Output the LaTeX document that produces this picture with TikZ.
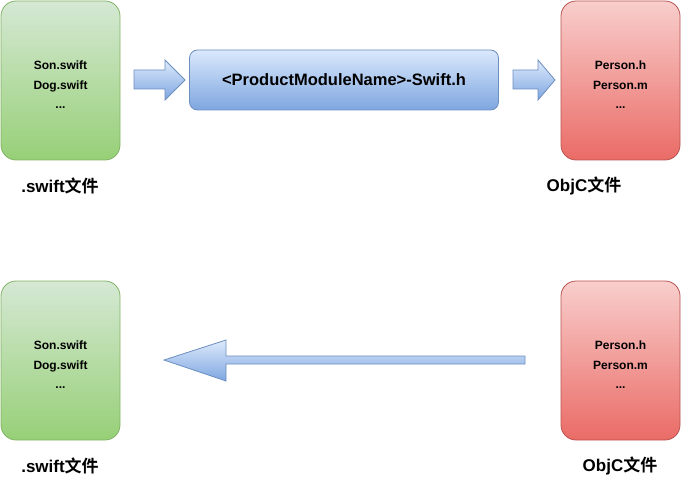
\documentclass[tikz,border=0pt]{standalone}
\usepackage{fontspec}
\setmainfont{Liberation Sans}
\newfontfamily\cjk{Noto Sans CJK SC}[BoldFont={Noto Sans CJK SC Bold}]
\definecolor{gTop}{HTML}{D5E8D4}
\definecolor{gBot}{HTML}{97D077}
\definecolor{gLine}{HTML}{82B366}
\definecolor{rTop}{HTML}{F8CECC}
\definecolor{rBot}{HTML}{EA6B66}
\definecolor{rLine}{HTML}{B85450}
\definecolor{bTop}{HTML}{DAE8FC}
\definecolor{bBot}{HTML}{7EA6E0}
\definecolor{bLine}{HTML}{6C8EBF}
\begin{document}
\begin{tikzpicture}[x=1pt,y=-1pt,
  filebox/.style={rounded corners=15pt, minimum width=119pt, minimum height=159pt, inner sep=0pt, line width=0.8pt},
  greenbox/.style={filebox, draw=gLine, top color=gTop, bottom color=gBot},
  redbox/.style={filebox, draw=rLine, top color=rTop, bottom color=rBot},
  filetext/.style={align=center, inner sep=0pt, font=\fontsize{12}{19.5}\selectfont\bfseries},
  hdrbox/.style={rounded corners=8pt, minimum width=309pt, minimum height=60pt, inner sep=0pt, line width=0.8pt, draw=bLine, top color=bTop, bottom color=bBot, font=\fontsize{16.5}{18}\selectfont\bfseries},
  blockarrow/.style={draw=bLine, line width=0.8pt, top color=bTop!90!white, bottom color=bBot},
  caption/.style={font=\fontsize{17}{19}\selectfont\bfseries, inner sep=0pt}
]
\useasboundingbox (0,0) rectangle (682,481);
% top row
\node[greenbox] (sw1) at (60.5,80.5) {};
\node[filetext] (sw1t) at (60.5,85) {Son.swift\\Dog.swift\\...};
\node[hdrbox] (hdr) at (344,80) {<ProductModuleName>-Swift.h};
\node[redbox] (oc1) at (620.5,80.5) {};
\node[filetext] (oc1t) at (620.5,85) {Person.h\\Person.m\\...};
\node[caption] (cap1) at (60,186) {.swift{\cjk\bfseries 文件}};
\node[caption] (cap2) at (584,186) {ObjC{\cjk\bfseries 文件}};
% top block arrows
\coordinate (a1s) at (134,80);
\coordinate (a1t) at (185,80);
\path[blockarrow] ([shift={(0,-10)}]a1s) -- ([shift={(-20,-10)}]a1t) -- ([shift={(-20,-20)}]a1t) -- (a1t) -- ([shift={(-20,20)}]a1t) -- ([shift={(-20,9)}]a1t) -- ([shift={(0,9)}]a1s) -- cycle;
\coordinate (a2s) at (513,80);
\coordinate (a2t) at (555,80);
\path[blockarrow] ([shift={(0,-10)}]a2s) -- ([shift={(-17,-10)}]a2t) -- ([shift={(-17,-20)}]a2t) -- (a2t) -- ([shift={(-17,20)}]a2t) -- ([shift={(-17,9)}]a2t) -- ([shift={(0,9)}]a2s) -- cycle;
% bottom row
\node[greenbox] (sw2) at (60.5,360.5) {};
\node[filetext] (sw2t) at (60.5,365) {Son.swift\\Dog.swift\\...};
\node[redbox] (oc2) at (620.5,360.5) {};
\node[filetext] (oc2t) at (620.5,365) {Person.h\\Person.m\\...};
\node[caption] (cap3) at (60,466) {.swift{\cjk\bfseries 文件}};
\node[caption] (cap4) at (620,466) {ObjC{\cjk\bfseries 文件}};
% bottom long arrow
\coordinate (b1s) at (525,360);
\coordinate (b1t) at (164,360);
\path[blockarrow] ([shift={(0,-4)}]b1s) -- ([shift={(62,-4)}]b1t) -- ([shift={(62,-20)}]b1t) -- (b1t) -- ([shift={(62,21)}]b1t) -- ([shift={(62,4)}]b1t) -- ([shift={(0,4)}]b1s) -- cycle;
\end{tikzpicture}
\end{document}
